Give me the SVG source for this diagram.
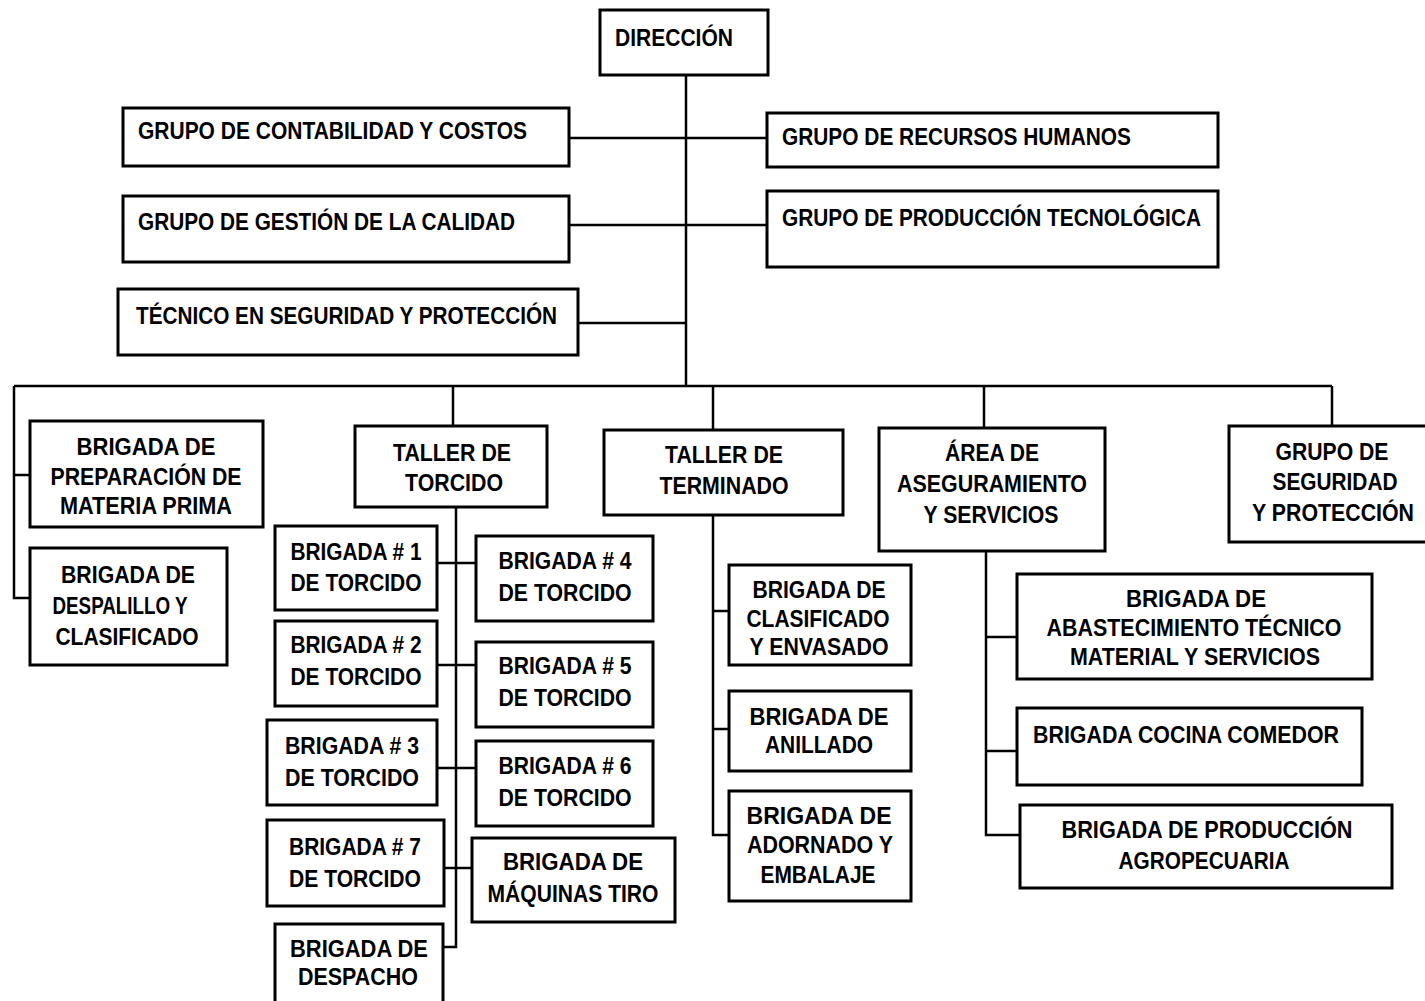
<svg xmlns="http://www.w3.org/2000/svg" width="1425" height="1001" viewBox="0 0 1425 1001">
  <style>
    .box { fill: #fff; stroke: #000; stroke-width: 3; }
    .ln { fill: none; stroke: #000; stroke-width: 2.5; }
    text { font-family: "Liberation Sans", Arial, sans-serif; font-weight: bold; font-size: 24px; fill: #000; }
    .c { text-anchor: middle; }
  </style>
  <rect width="1425" height="1001" fill="#fff"/>

  <!-- connectors -->
  <g id="connectors">
    <path class="ln" d="M686 75 V386"/>
    <path class="ln" d="M569 138 H767"/>
    <path class="ln" d="M569 225 H767"/>
    <path class="ln" d="M578 323 H686"/>
    <path class="ln" d="M14 386 H1332"/>
    <path class="ln" d="M14 386 V598 H30 M14 475 H30"/>
    <path class="ln" d="M453 386 V426"/>
    <path class="ln" d="M713 386 V430"/>
    <path class="ln" d="M984 386 V428"/>
    <path class="ln" d="M1332 386 V426"/>
    <!-- torcido -->
    <path class="ln" d="M456 507 V947 H443"/>
    <path class="ln" d="M437 563 H476"/>
    <path class="ln" d="M437 665 H476"/>
    <path class="ln" d="M437 768 H476"/>
    <path class="ln" d="M444 868 H472"/>
    <!-- terminado -->
    <path class="ln" d="M713 515 V835 H729"/>
    <path class="ln" d="M713 611 H729"/>
    <path class="ln" d="M713 729 H729"/>
    <!-- aseguramiento -->
    <path class="ln" d="M986 551 V835 H1020"/>
    <path class="ln" d="M986 637 H1017"/>
    <path class="ln" d="M986 751 H1017"/>
  </g>

  <g id="direccion">
    <rect class="box" x="600" y="10" width="168" height="65"/>
    <text x="615" y="46" textLength="118" lengthAdjust="spacingAndGlyphs">DIRECCIÓN</text>
  </g>

  <g id="contabilidad">
    <rect class="box" x="123" y="108" width="446" height="58"/>
    <text x="138" y="139" textLength="389" lengthAdjust="spacingAndGlyphs">GRUPO DE CONTABILIDAD Y COSTOS</text>
  </g>
  <g id="recursos-humanos">
    <rect class="box" x="767" y="113" width="451" height="54"/>
    <text x="782" y="145" textLength="349" lengthAdjust="spacingAndGlyphs">GRUPO DE RECURSOS HUMANOS</text>
  </g>
  <g id="calidad">
    <rect class="box" x="123" y="196" width="446" height="66"/>
    <text x="138" y="230" textLength="377" lengthAdjust="spacingAndGlyphs">GRUPO DE GESTIÓN DE LA CALIDAD</text>
  </g>
  <g id="produccion-tecnologica">
    <rect class="box" x="767" y="191" width="451" height="76"/>
    <text x="782" y="226" textLength="419" lengthAdjust="spacingAndGlyphs">GRUPO DE PRODUCCIÓN TECNOLÓGICA</text>
  </g>
  <g id="tecnico-seguridad">
    <rect class="box" x="118" y="289" width="460" height="66"/>
    <text x="136" y="324" textLength="421" lengthAdjust="spacingAndGlyphs">TÉCNICO EN SEGURIDAD Y PROTECCIÓN</text>
  </g>

  <g id="preparacion">
    <rect class="box" x="30" y="421" width="233" height="106"/>
    <text class="c" x="146" y="455" textLength="139" lengthAdjust="spacingAndGlyphs">BRIGADA  DE</text>
    <text class="c" x="146" y="485" textLength="191" lengthAdjust="spacingAndGlyphs">PREPARACIÓN DE</text>
    <text class="c" x="146" y="514" textLength="172" lengthAdjust="spacingAndGlyphs">MATERIA PRIMA</text>
  </g>
  <g id="despalillo">
    <rect class="box" x="30" y="548" width="197" height="117"/>
    <text class="c" x="128" y="583" textLength="134" lengthAdjust="spacingAndGlyphs">BRIGADA DE</text>
    <text class="c" x="120" y="614" textLength="135" lengthAdjust="spacingAndGlyphs">DESPALILLO Y</text>
    <text class="c" x="127" y="645" textLength="143" lengthAdjust="spacingAndGlyphs">CLASIFICADO</text>
  </g>

  <g id="taller-torcido">
    <rect class="box" x="355" y="426" width="192" height="81"/>
    <text class="c" x="452" y="461" textLength="118" lengthAdjust="spacingAndGlyphs">TALLER DE</text>
    <text class="c" x="454" y="491" textLength="98" lengthAdjust="spacingAndGlyphs">TORCIDO</text>
  </g>
  <g id="brigada-1">
    <rect class="box" x="275" y="526" width="162" height="84"/>
    <text class="c" x="356" y="560" textLength="131" lengthAdjust="spacingAndGlyphs">BRIGADA # 1</text>
    <text class="c" x="356" y="591" textLength="131" lengthAdjust="spacingAndGlyphs">DE TORCIDO</text>
  </g>
  <g id="brigada-4">
    <rect class="box" x="476" y="536" width="177" height="85"/>
    <text class="c" x="565" y="569" textLength="133" lengthAdjust="spacingAndGlyphs">BRIGADA # 4</text>
    <text class="c" x="565" y="601" textLength="133" lengthAdjust="spacingAndGlyphs">DE TORCIDO</text>
  </g>
  <g id="brigada-2">
    <rect class="box" x="275" y="621" width="162" height="85"/>
    <text class="c" x="356" y="653" textLength="131" lengthAdjust="spacingAndGlyphs">BRIGADA # 2</text>
    <text class="c" x="356" y="685" textLength="131" lengthAdjust="spacingAndGlyphs">DE TORCIDO</text>
  </g>
  <g id="brigada-5">
    <rect class="box" x="476" y="642" width="177" height="85"/>
    <text class="c" x="565" y="674" textLength="133" lengthAdjust="spacingAndGlyphs">BRIGADA # 5</text>
    <text class="c" x="565" y="706" textLength="133" lengthAdjust="spacingAndGlyphs">DE TORCIDO</text>
  </g>
  <g id="brigada-3">
    <rect class="box" x="267" y="720" width="170" height="85"/>
    <text class="c" x="352" y="754" textLength="134" lengthAdjust="spacingAndGlyphs">BRIGADA # 3</text>
    <text class="c" x="352" y="786" textLength="134" lengthAdjust="spacingAndGlyphs">DE TORCIDO</text>
  </g>
  <g id="brigada-6">
    <rect class="box" x="476" y="741" width="177" height="85"/>
    <text class="c" x="565" y="774" textLength="133" lengthAdjust="spacingAndGlyphs">BRIGADA # 6</text>
    <text class="c" x="565" y="806" textLength="133" lengthAdjust="spacingAndGlyphs">DE TORCIDO</text>
  </g>
  <g id="brigada-7">
    <rect class="box" x="267" y="820" width="177" height="86"/>
    <text class="c" x="355" y="855" textLength="132" lengthAdjust="spacingAndGlyphs">BRIGADA # 7</text>
    <text class="c" x="355" y="887" textLength="132" lengthAdjust="spacingAndGlyphs">DE TORCIDO</text>
  </g>
  <g id="maquinas-tiro">
    <rect class="box" x="472" y="838" width="203" height="84"/>
    <text class="c" x="573" y="870" textLength="140" lengthAdjust="spacingAndGlyphs">BRIGADA  DE</text>
    <text class="c" x="573" y="902" textLength="171" lengthAdjust="spacingAndGlyphs">MÁQUINAS TIRO</text>
  </g>
  <g id="despacho">
    <rect class="box" x="275" y="924" width="168" height="82"/>
    <text class="c" x="359" y="957" textLength="138" lengthAdjust="spacingAndGlyphs">BRIGADA  DE</text>
    <text class="c" x="358" y="985" textLength="120" lengthAdjust="spacingAndGlyphs">DESPACHO</text>
  </g>

  <g id="taller-terminado">
    <rect class="box" x="604" y="430" width="239" height="85"/>
    <text class="c" x="724" y="463" textLength="118" lengthAdjust="spacingAndGlyphs">TALLER DE</text>
    <text class="c" x="724" y="494" textLength="129" lengthAdjust="spacingAndGlyphs">TERMINADO</text>
  </g>
  <g id="clasificado">
    <rect class="box" x="729" y="565" width="182" height="100"/>
    <text class="c" x="819" y="598" textLength="133" lengthAdjust="spacingAndGlyphs">BRIGADA DE</text>
    <text class="c" x="818" y="627" textLength="143" lengthAdjust="spacingAndGlyphs">CLASIFICADO</text>
    <text class="c" x="819" y="655" textLength="139" lengthAdjust="spacingAndGlyphs">Y ENVASADO</text>
  </g>
  <g id="anillado">
    <rect class="box" x="729" y="691" width="182" height="80"/>
    <text class="c" x="819" y="725" textLength="139" lengthAdjust="spacingAndGlyphs">BRIGADA  DE</text>
    <text class="c" x="819" y="753" textLength="108" lengthAdjust="spacingAndGlyphs">ANILLADO</text>
  </g>
  <g id="adornado">
    <rect class="box" x="729" y="791" width="182" height="110"/>
    <text class="c" x="819" y="824" textLength="145" lengthAdjust="spacingAndGlyphs">BRIGADA   DE</text>
    <text class="c" x="820" y="853" textLength="146" lengthAdjust="spacingAndGlyphs">ADORNADO Y</text>
    <text class="c" x="818" y="883" textLength="115" lengthAdjust="spacingAndGlyphs">EMBALAJE</text>
  </g>

  <g id="aseguramiento">
    <rect class="box" x="879" y="428" width="226" height="123"/>
    <text class="c" x="992" y="461" textLength="94" lengthAdjust="spacingAndGlyphs">ÁREA DE</text>
    <text class="c" x="992" y="492" textLength="190" lengthAdjust="spacingAndGlyphs">ASEGURAMIENTO</text>
    <text class="c" x="991" y="523" textLength="135" lengthAdjust="spacingAndGlyphs">Y SERVICIOS</text>
  </g>
  <g id="abastecimiento">
    <rect class="box" x="1017" y="574" width="355" height="105"/>
    <text class="c" x="1196" y="607" textLength="140" lengthAdjust="spacingAndGlyphs">BRIGADA  DE</text>
    <text class="c" x="1194" y="636" textLength="295" lengthAdjust="spacingAndGlyphs">ABASTECIMIENTO TÉCNICO</text>
    <text class="c" x="1195" y="665" textLength="250" lengthAdjust="spacingAndGlyphs">MATERIAL Y SERVICIOS</text>
  </g>
  <g id="cocina-comedor">
    <rect class="box" x="1017" y="708" width="345" height="77"/>
    <text x="1033" y="743" textLength="306" lengthAdjust="spacingAndGlyphs">BRIGADA  COCINA COMEDOR</text>
  </g>
  <g id="agropecuaria">
    <rect class="box" x="1020" y="805" width="372" height="83"/>
    <text class="c" x="1207" y="838" textLength="291" lengthAdjust="spacingAndGlyphs">BRIGADA  DE PRODUCCIÓN</text>
    <text class="c" x="1204" y="869" textLength="171" lengthAdjust="spacingAndGlyphs">AGROPECUARIA</text>
  </g>

  <g id="grupo-seguridad">
    <rect class="box" x="1229" y="426" width="210" height="116"/>
    <text class="c" x="1332" y="460" textLength="113" lengthAdjust="spacingAndGlyphs">GRUPO DE</text>
    <text class="c" x="1335" y="490" textLength="125" lengthAdjust="spacingAndGlyphs">SEGURIDAD</text>
    <text class="c" x="1333" y="521" textLength="162" lengthAdjust="spacingAndGlyphs">Y PROTECCIÓN</text>
  </g>
</svg>
